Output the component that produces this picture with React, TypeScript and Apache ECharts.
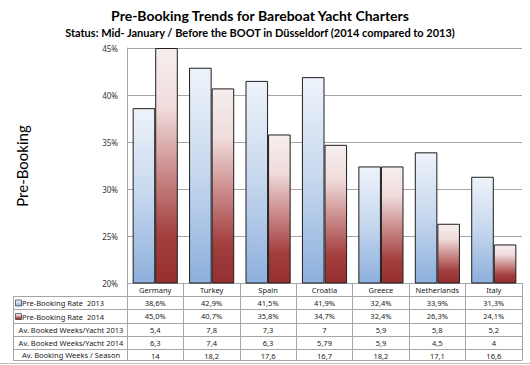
import React, { useEffect, useRef } from "react";
import * as echarts from "echarts";

const categories = ["Germany", "Turkey", "Spain", "Croatia", "Greece", "Netherlands", "Italy"];
const rate2013 = [38.6, 42.9, 41.5, 41.9, 32.4, 33.9, 31.3];
const rate2014 = [45.0, 40.7, 35.8, 34.7, 32.4, 26.3, 24.1];
const booked2013 = [5.4, 7.8, 7.3, 7, 5.9, 5.8, 5.2];
const booked2014 = [6.3, 7.4, 6.3, 5.79, 5.9, 4.5, 4];
const season = [14, 18.2, 17.6, 16.7, 18.2, 17.1, 16.6];
const rowLabels = [
  "Pre-Booking Rate  2013",
  "Pre-Booking Rate  2014",
  "Av. Booked Weeks/Yacht 2013",
  "Av. Booked Weeks/Yacht 2014",
  "Av. Booking Weeks / Season",
];
const yTicks = { min: 20, max: 45, interval: 5 };

const W = 530;
const H = 365;
const GRID_LEFT = 127;
const GRID_RIGHT = 8;
const GRID_TOP = 48;
const GRID_BOTTOM = 82;
const ROW_OFFSETS = [13, 26, 40, 53, 66];
const TABLE_BOTTOM = 77;
const TABLE_LEFT = 13;
const LINE = "#a6a6a6";
const FONT = "'Noto Sans', sans-serif";
const TITLE_FONT = "Lato, 'Open Sans', sans-serif";

const comma = (v: number) => String(v).replace(".", ",");
const pct = (v: number) => v.toFixed(1).replace(".", ",") + "%";

const blueGrad = () =>
  new echarts.graphic.LinearGradient(0, 0, 0, 1, [
    { offset: 0, color: "#eef3fa" },
    { offset: 0.5, color: "#c6d7ee" },
    { offset: 1, color: "#8cafdc" },
  ]);
const redGrad = () =>
  new echarts.graphic.LinearGradient(0, 0, 0, 1, [
    { offset: 0, color: "#f6eeee" },
    { offset: 0.25, color: "#f0dcdc" },
    { offset: 0.55, color: "#c88484" },
    { offset: 0.8, color: "#a33e3e" },
    { offset: 1, color: "#963030" },
  ]);

export default function App() {
  const ref = useRef<HTMLDivElement>(null);
  useEffect(() => {
    if (!ref.current) return;
    const chart = echarts.init(ref.current, null, { renderer: "svg" });
    const rows = [rate2013.map(pct), rate2014.map(pct), booked2013.map(comma), booked2014.map(comma), season.map(comma)];
    const tableAxes = rows.map((data, i) => ({
      type: "category",
      gridIndex: 0,
      position: "bottom",
      offset: ROW_OFFSETS[i],
      data,
      axisLine: { show: true, lineStyle: { color: LINE, width: 1 } },
      axisTick: { show: true, length: (i < 4 ? ROW_OFFSETS[i + 1] : TABLE_BOTTOM) - ROW_OFFSETS[i], interval: 0, lineStyle: { color: LINE } },
      axisLabel: { interval: 0, margin: 3, fontSize: 7.5, color: "#222", fontFamily: FONT },
    }));
    const bottomAxis = {
      type: "category",
      gridIndex: 0,
      position: "bottom",
      offset: TABLE_BOTTOM,
      data: categories.map(() => ""),
      axisLine: { show: true, lineStyle: { color: LINE } },
      axisTick: { show: false },
      axisLabel: { show: false },
    };
    const gridBottomY = H - GRID_BOTTOM;
    const labelGraphics: any[] = [];
    const lineYs = [ROW_OFFSETS[0], ...ROW_OFFSETS.slice(1), TABLE_BOTTOM].map((o) => gridBottomY + o);
    const allYs = [...ROW_OFFSETS.map((o) => gridBottomY + o), gridBottomY + TABLE_BOTTOM];
    allYs.forEach((y) =>
      labelGraphics.push({
        type: "line",
        shape: { x1: TABLE_LEFT, y1: y + 0.5, x2: GRID_LEFT, y2: y + 0.5 },
        style: { stroke: LINE, lineWidth: 1 },
      })
    );
    labelGraphics.push({
      type: "line",
      shape: { x1: TABLE_LEFT + 0.5, y1: allYs[0], x2: TABLE_LEFT + 0.5, y2: allYs[allYs.length - 1] },
      style: { stroke: LINE, lineWidth: 1 },
    });
    rowLabels.forEach((t, i) => {
      const yc = (allYs[i] + allYs[i + 1]) / 2 + 0.5;
      if (i < 2) {
        labelGraphics.push({
          type: "rect",
          shape: { x: 15.5, y: yc - 3, width: 6, height: 6 },
          style: { fill: i === 0 ? blueGrad() : redGrad(), stroke: "#333", lineWidth: 0.7 },
        });
        labelGraphics.push({
          type: "text",
          x: 22,
          y: yc,
          style: { text: t, fontSize: 7.5, fill: "#222", fontFamily: FONT, textAlign: "left", textVerticalAlign: "middle" },
        });
      } else {
        labelGraphics.push({
          type: "text",
          x: 71,
          y: yc,
          style: { text: t, fontSize: 7.5, fill: "#222", fontFamily: FONT, textAlign: "center", textVerticalAlign: "middle" },
        });
      }
    });

    chart.setOption({
      animation: false,
      backgroundColor: "#ffffff",
      grid: { left: GRID_LEFT, right: GRID_RIGHT, top: GRID_TOP, bottom: GRID_BOTTOM },
      xAxis: [
        {
          type: "category",
          data: categories,
          axisLine: { show: true, lineStyle: { color: LINE } },
          axisTick: { show: true, length: 13, interval: 0, lineStyle: { color: LINE } },
          axisLabel: { interval: 0, margin: 3, fontSize: 7.5, color: "#222", fontFamily: FONT },
        },
        ...tableAxes,
        bottomAxis,
      ],
      yAxis: {
        type: "value",
        min: yTicks.min,
        max: yTicks.max,
        interval: yTicks.interval,
        axisLine: { show: true, lineStyle: { color: LINE } },
        axisTick: { show: false },
        axisLabel: { formatter: "{value}%", fontSize: 8, color: "#333", fontFamily: FONT, margin: 9 },
        splitLine: { show: true, lineStyle: { color: LINE, width: 1 } },
      },
      series: [
        {
          name: "Pre-Booking Rate 2013",
          type: "bar",
          data: rate2013,
          barGap: "0%",
          barCategoryGap: "20%",
          itemStyle: { color: blueGrad(), borderColor: "#1e1e1e", borderWidth: 1 },
        },
        {
          name: "Pre-Booking Rate 2014",
          type: "bar",
          data: rate2014,
          barGap: "0%",
          barCategoryGap: "20%",
          itemStyle: { color: redGrad(), borderColor: "#1e1e1e", borderWidth: 1 },
        },
      ],
      graphic: [
        {
          type: "text",
          x: 260,
          y: 15,
          style: {
            text: "Pre-Booking Trends for Bareboat Yacht Charters",
            fontSize: 14,
            fontWeight: "bold",
            fill: "#000",
            fontFamily: TITLE_FONT,
            textAlign: "center",
            textVerticalAlign: "middle",
          },
        },
        {
          type: "text",
          x: 260,
          y: 32,
          style: {
            text: "Status: Mid- January / Before the BOOT in Düsseldorf (2014 compared to 2013)",
            fontSize: 11,
            fontWeight: "bold",
            fill: "#000",
            fontFamily: TITLE_FONT,
            textAlign: "center",
            textVerticalAlign: "middle",
          },
        },
        {
          type: "text",
          x: 22,
          y: 166,
          rotation: Math.PI / 2,
          style: {
            text: "Pre-Booking",
            fontSize: 15,
            fill: "#000",
            fontFamily: TITLE_FONT,
            textAlign: "center",
            textVerticalAlign: "middle",
          },
        },
        {
          type: "line",
          shape: { x1: 0, y1: 363.5, x2: W, y2: 363.5 },
          style: { stroke: "#bdbdbd", lineWidth: 1 },
        },
        ...labelGraphics,
      ],
    });
    return () => chart.dispose();
  }, []);
  return <div ref={ref} style={{ position: "fixed", left: 0, top: 0, width: W, height: H }} />;
}
